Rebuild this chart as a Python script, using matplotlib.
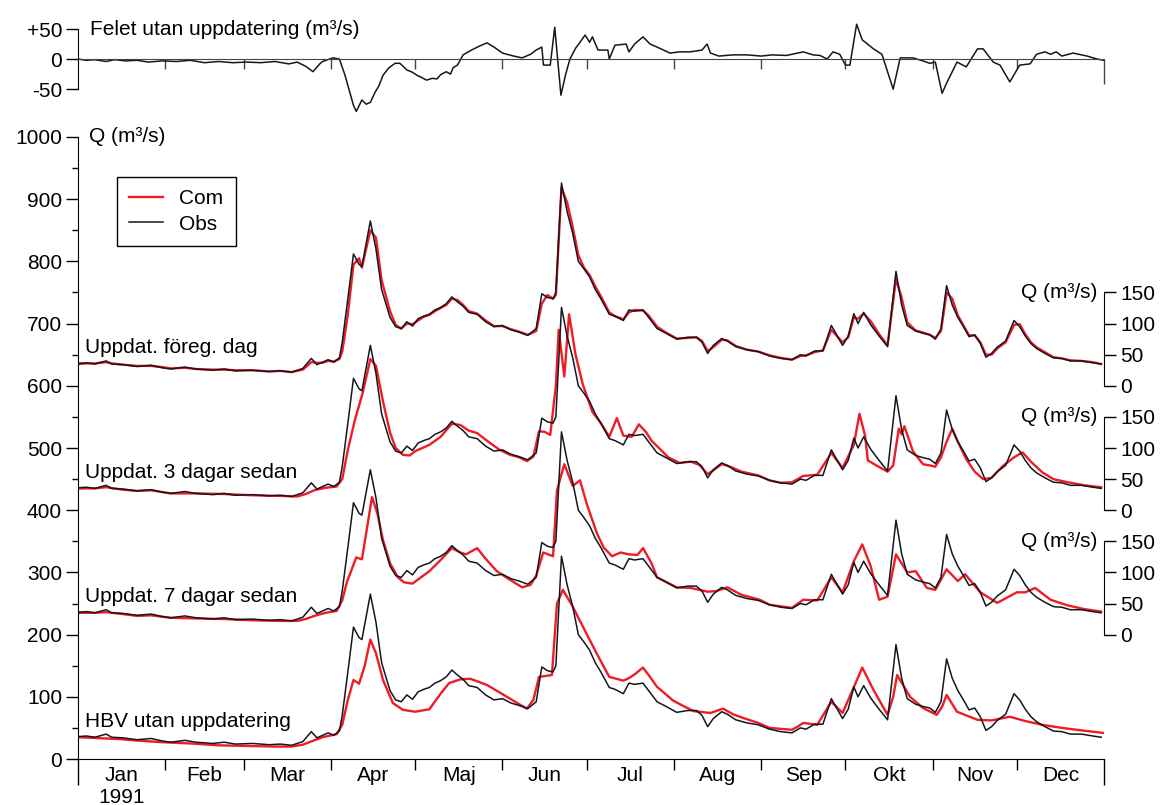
import numpy as np
import matplotlib
matplotlib.use("Agg")
import matplotlib.pyplot as plt

plt.rcParams['font.family'] = ['Liberation Sans', 'DejaVu Sans']
plt.rcParams['font.size'] = 15

# --- data (day 0 = 1 Jan 1991) ---
months = ['Jan', 'Feb', 'Mar', 'Apr', 'Maj', 'Jun', 'Jul', 'Aug', 'Sep', 'Okt', 'Nov', 'Dec']
month_start = [0, 31, 59, 90, 120, 151, 181, 212, 243, 273, 304, 334, 365]

obs_day = [0, 3, 6, 10, 12, 16, 21, 26, 30, 33,
           38, 42, 48, 52, 56, 62, 68, 72, 76, 80,
           83, 85, 87, 89, 91, 93, 94, 96, 98, 100,
           101, 104, 106, 108, 111, 113, 115, 117, 119, 121,
           123, 125, 127, 129, 131, 133, 135, 137, 139, 142,
           145, 148, 151, 154, 157, 160, 163, 165, 167, 169,
           170, 172, 174, 176, 178, 180, 182, 184, 186, 189,
           191, 194, 196, 198, 201, 203, 206, 209, 213, 217,
           220, 222, 224, 226, 229, 231, 234, 238, 242, 246,
           250, 254, 257, 259, 262, 265, 268, 272, 274, 276,
           277.5, 279.5, 282, 285, 288, 291, 293, 295, 298, 301,
           303, 305, 307, 309, 311, 313, 315, 317, 319, 321,
           323, 325, 327, 330, 333, 335, 337, 339, 341, 344,
           347, 350, 353, 357, 361, 364]
obs_q = [36, 37, 35, 40, 35, 34, 31, 33, 29, 27,
         30, 27, 25, 27, 24, 25, 23, 24, 22, 28,
         44, 34, 38, 42, 38, 45, 70, 140, 212, 195,
         192, 265, 220, 155, 110, 95, 92, 103, 96, 108,
         112, 115, 122, 126, 132, 143, 135, 128, 118, 115,
         103, 95, 97, 90, 86, 81, 92, 148, 142, 140,
         150, 326, 280, 245, 200, 188, 175, 155, 140, 115,
         112, 105, 122, 120, 122, 110, 92, 85, 75, 78,
         78, 70, 52, 65, 76, 72, 63, 58, 55, 48,
         44, 42, 50, 48, 56, 56, 97, 65, 80, 116,
         100, 118, 98, 80, 63, 184, 130, 97, 88, 84,
         82, 75, 92, 161, 130, 110, 95, 79, 82, 68,
         46, 52, 62, 72, 105, 95, 80, 68, 60, 52,
         45, 44, 40, 40, 37, 35]

# updated previous day (same days as obs)
com1_q = [35, 36, 36, 38, 36, 34, 32, 32, 30, 28,
          29, 27, 26, 26, 25, 25, 23, 24, 22, 26,
          38, 37, 37, 40, 39, 43, 55, 115, 195, 205,
          190, 250, 238, 170, 120, 98, 92, 100, 99, 105,
          111, 114, 120, 125, 130, 140, 138, 130, 120, 116,
          105, 96, 96, 91, 87, 82, 88, 132, 146, 140,
          146, 318, 295, 255, 210, 190, 178, 160, 144, 118,
          112, 107, 118, 122, 121, 113, 95, 86, 76, 77,
          78, 72, 56, 62, 74, 73, 64, 58, 55, 49,
          45, 42, 48, 49, 54, 57, 90, 70, 78, 110,
          108, 116, 104, 83, 65, 172, 142, 102, 89, 85,
          82, 77, 88, 150, 140, 113, 97, 81, 81, 70,
          50, 50, 60, 70, 98, 99, 83, 70, 62, 54,
          46, 44, 41, 40, 38, 35]

com3_day = [0, 6, 10, 16, 21, 26, 33, 42, 52, 62, 72, 78, 81, 84, 88, 92, 94, 96,
            98.5, 101.3, 104, 106, 108.5, 111, 113, 115.6, 118, 120, 125, 129, 133,
            136, 139, 142, 146, 150, 153.7, 157, 159.7, 162, 164, 166, 168, 170, 171,
            173, 174.7, 177, 179.6, 183, 186, 189, 191.7, 194, 197, 199.5, 202, 204,
            210, 214, 218, 221, 224, 226, 229, 232, 236, 242, 246, 250, 254, 258, 263,
            268, 272, 276, 278, 280, 281, 284, 288, 290, 292, 293, 294, 297, 300.6,
            303, 305, 307, 309, 311, 313, 316, 319, 322, 325, 329, 333, 336, 339, 343,
            347, 352, 358, 364]
com3_q = [35, 35, 37, 33, 31, 32, 27, 27, 26, 24, 23, 22, 26, 32, 36, 38, 50, 97,
          145, 189, 243, 232, 175, 125, 100, 89, 88, 95, 105, 118, 139,
          137, 128, 124, 110, 97, 89, 85, 79, 86, 127, 126, 121, 200, 290,
          215, 315, 250, 202, 158, 140, 118, 148, 120, 118, 138, 126, 112,
          85, 76, 78, 73, 58, 64, 74, 70, 62, 56, 48, 44, 45, 55, 57,
          92, 68, 105, 155, 120, 80, 72, 62, 72, 131, 122, 135, 95, 74,
          72, 70, 85, 110, 131, 110, 82, 62, 50, 52, 71, 85, 93, 78, 61,
          50, 45, 40, 37]

com7_day = [0, 6, 10, 16, 21, 26, 33, 42, 52, 62, 72, 78, 81, 84, 88, 92, 94, 95.7,
            99, 101, 104.6, 106.5, 108.5, 111, 113.8, 116, 119, 122, 125, 129, 133,
            136, 138, 142, 145, 149, 153, 158, 161, 163, 165.5, 169, 170.4, 173, 176,
            178.6, 181, 184.6, 187, 190, 193, 196, 199, 201, 204, 206, 213, 218, 224,
            227, 231, 236, 242.6, 246, 254, 258, 263, 268, 272, 276, 279, 282, 285,
            288, 291, 295, 298, 302, 305, 309, 313, 315.6, 321, 327, 334, 337, 340.5,
            346, 352, 358, 364]
com7_q = [35, 35, 36, 33, 30, 31, 27, 26, 25, 23, 22, 22, 25, 30, 35, 38, 55, 85,
          124, 121, 221, 195, 152, 115, 92, 84, 82, 92, 102, 120, 139,
          132, 129, 139, 122, 102, 90, 76, 80, 95, 132, 126, 232, 274, 239,
          248, 210, 163, 140, 126, 132, 129, 128, 139, 115, 92, 76, 75, 69,
          70, 76, 64, 56, 48, 43, 56, 55, 92, 68, 118, 145, 110, 56,
          61, 129, 100, 102, 75, 72, 105, 86, 97, 68, 51, 68, 68, 75,
          56, 47, 41, 37]

hbv_day = [0, 5, 10, 15, 20, 30, 40, 50, 60, 70, 76, 80, 84, 87, 90, 92, 94, 96,
           98, 100, 102, 104, 106, 108.5, 112, 115.6, 120, 125, 129, 132, 136,
           139.5, 142, 145.5, 150, 153.7, 157, 159.7, 162, 164, 168.6, 170.4, 172.5,
           176, 179.6, 184.6, 189, 194, 196, 198, 201, 203, 206, 211.7, 215, 219,
           225, 229.5, 233, 236.6, 242, 246, 254, 256, 258, 263, 268, 272, 275, 279,
           283, 288, 290, 291.4, 296, 300.6, 305.5, 307.5, 309, 312.7, 320, 325,
           331.5, 337, 343, 350, 357, 364.6]
hbv_q = [35, 34, 33, 32, 30, 27, 25, 22, 21, 20, 20, 23, 30, 35, 38, 40, 55, 95,
         127, 121, 150, 192, 170, 127, 90, 79, 76, 80, 105, 122, 128,
         129, 125, 119, 107, 97, 88, 81, 95, 132, 135, 250, 272,
         245, 213, 169, 132, 126, 130, 136, 147, 135, 116, 94, 86, 77,
         74, 81, 72, 66, 58, 50, 47, 52, 58, 55, 92, 74, 105, 147,
         111, 71, 100, 135, 100, 82, 71, 85, 103, 76, 63, 62,
         68, 61, 55, 50, 46, 42]

err_day = [0, 3, 6, 10, 13, 17, 21, 25, 30, 35, 40, 45, 50, 55, 60, 65, 70, 75, 78,
           81, 83.6, 86, 87, 90.7, 93, 95, 98, 99, 101, 102.5, 104, 105.7, 107, 108.5,
           110.5, 112.8, 114.5, 117, 119, 120.6, 122, 124, 126, 127.7, 129, 131, 132.5,
           133.5, 135, 137, 140, 143, 145.5, 148, 151, 155, 158, 161, 163, 165, 165.6,
           168, 169.6, 171.8, 173.5, 175, 177, 178.6, 180.4, 182, 183, 185, 188.5, 189,
           191, 195, 196, 198, 201, 203.5, 206, 210.6, 214, 217.7, 222, 223.8, 225, 228,
           233, 238, 243, 247, 252, 258, 261.5, 264, 266.5, 268.6, 271, 273, 274.6, 277,
           279, 283, 286, 290, 292.5, 297, 300.6, 303, 305, 307.4, 309, 312.7, 316, 320,
           322, 325.6, 328, 331.5, 335, 338.7, 341, 344, 346, 348, 350, 354, 359, 362.6,
           365]
err_q = [0, -2, -1, -4, -1, -3, -2, -5, -3, -4, -2, -6, -4, -6, -5, -6, -4, -8, -5,
         -12, -21, -8, -4, 2, 0, -27, -77, -87, -68, -75, -72, -55, -45, -27,
         -15, -7, -7, -18, -22, -27, -30, -35, -32, -33, -26, -21, -25,
         -14, -10, 7, 15, 22, 27, 20, 10, 5, 2, 8, 15, 20, -10,
         -10, 53, -60, -25, 0, 18, 28, 40, 28, 37, 15, 15, 0,
         23, 25, 12, 25, 37, 25, 20, 10, 12, 12, 15, 25, 10, 5,
         7, 7, 5, 7, 6, 12, 7, 6, 0, 12, 8, -10, -10, 58,
         32, 17, 8, -50, 2, 2, -3, -7, -5, -57, -40, -5, -13, 17,
         17, -5, -10, -38, -10, -8, 8, 12, 8, 12, 5, 10, 5, 0,
         -2]

panel_names = ['Uppdat. föreg. dag', 'Uppdat. 3 dagar sedan',
               'Uppdat. 7 dagar sedan', 'HBV utan uppdatering']
panel_offsets = [600, 400, 200, 0]
panel_com = [(obs_day, com1_q), (com3_day, com3_q), (com7_day, com7_q), (hbv_day, hbv_q)]

RED = '#ee1c25'
BLACK = '#15151f'
W, H = 1164, 805

fig = plt.figure(figsize=(W / 100, H / 100), dpi=100)

# ---------------- main panel ----------------
ax = fig.add_axes([78 / W, 46 / H, 1026 / W, 622 / H])
ax.set_xlim(0, 365)
ax.set_ylim(0, 1000)

obs = np.array(obs_q, dtype=float)
for name, off, (cd, cq) in zip(panel_names, panel_offsets, panel_com):
    lc, = ax.plot(cd, np.array(cq, dtype=float) + off, color=RED, lw=1.7, zorder=2)
    lo, = ax.plot(obs_day, obs + off, color=BLACK, lw=1.1, zorder=3)
    ax.text(2.5, off + 61, name, ha='left', va='center')

ax.legend([lc, lo], ['Com', 'Obs'], loc='upper left', bbox_to_anchor=(0.038, 0.936),
          borderaxespad=0, fancybox=False, framealpha=1, edgecolor='black',
          handlelength=1.6, handletextpad=0.8, labelspacing=0.3, borderpad=0.6)

for s in ['top', 'right']:
    ax.spines[s].set_visible(False)
ax.spines['left'].set_bounds(0, 1000)

ax.set_yticks(np.arange(0, 1001, 100))
ax.set_yticks(np.arange(50, 1000, 100), minor=True)
ax.tick_params(axis='y', which='major', length=8.5, width=1, direction='out', pad=3)
ax.tick_params(axis='y', which='minor', length=4, width=1, direction='out')

mid = [(a + b) / 2 for a, b in zip(month_start[:-1], month_start[1:])]
ax.set_xticks(month_start)
ax.set_xticklabels([])
ax.set_xticks(mid, minor=True)
ax.set_xticklabels(months, minor=True)
ax.tick_params(axis='x', which='major', length=8, width=1, direction='out')
ax.tick_params(axis='x', which='minor', length=0, pad=5)
xt = ax.xaxis.get_major_ticks()
xt[0].tick1line.set_markersize(19)
xt[-1].tick1line.set_markersize(19)

ax.text(mid[0], -0.062, '1991', transform=ax.get_xaxis_transform(),
        ha='center', va='center')
ax.text(3.8, 1000, 'Q (m³/s)', ha='left', va='center')

# right-hand scales for the offset panels
for off in panel_offsets[:3]:
    rax = ax.twinx()
    rax.set_ylim(0, 1000)
    for s in ['top', 'left', 'bottom']:
        rax.spines[s].set_visible(False)
    rax.spines['right'].set_bounds(off, off + 150)
    rax.set_yticks([off, off + 50, off + 100, off + 150])
    rax.set_yticklabels(['0', '50', '100', '150'])
    rax.tick_params(axis='y', length=8.5, width=1, direction='out', pad=3)
    rax.text(362.5, off + 150, 'Q (m³/s)', ha='right', va='center')

# ---------------- error panel ----------------
tax = fig.add_axes([78 / W, (H - 115) / H, 1026 / W, 95 / H])
tax.set_xlim(0, 365)
tax.set_ylim(-93, 65)
tax.plot(err_day, err_q, color=BLACK, lw=1.1)
for s in ['top', 'right']:
    tax.spines[s].set_visible(False)
tax.spines['left'].set_bounds(-50, 50)
tax.spines['bottom'].set_position(('data', 0))
tax.spines['bottom'].set_color('#444444')
tax.set_yticks([-50, 0, 50])
tax.set_yticklabels(['-50', '0', '+50'])
tax.tick_params(axis='y', length=8.5, width=1, direction='out', pad=3)
tax.set_xticks(month_start)
tax.set_xticklabels([])
tax.tick_params(axis='x', length=7, width=1, direction='out', color='#444444')
tt = tax.xaxis.get_major_ticks()
tt[0].tick1line.set_markersize(0)
tt[-1].tick1line.set_markersize(18)
tax.patch.set_visible(False)
tax.text(4.3, 50, 'Felet utan uppdatering (m³/s)', ha='left', va='center')

fig.savefig('out.png', dpi=100)
